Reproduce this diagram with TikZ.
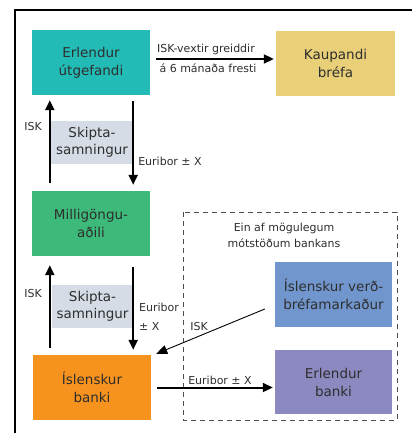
\documentclass[tikz,border=0pt]{standalone}
\usepackage{fontspec}
\setmainfont{DejaVu Sans}
\usetikzlibrary{arrows.meta}
\definecolor{cteal}{HTML}{22BBB6}
\definecolor{cyell}{HTML}{E8CF78}
\definecolor{cgreen}{HTML}{3DBA7A}
\definecolor{cblue}{HTML}{7196CD}
\definecolor{cpurp}{HTML}{8C88C0}
\definecolor{corange}{HTML}{F6921E}
\definecolor{cgray}{HTML}{D5DCE6}
\definecolor{ctext}{HTML}{2E2E2E}
\tikzset{
  box/.style={draw=none, align=center, inner sep=0pt, text=ctext, font=\fontsize{13.5}{18}\selectfont},
  swapbox/.style={fill=cgray, align=center, inner sep=0pt, minimum width=82pt, minimum height=43pt, text=ctext, font=\fontsize{13.5}{17}\selectfont},
  lbl/.style={inner sep=0pt, text=ctext, font=\fontsize{11}{13}\selectfont},
  arr/.style={line width=2pt, -{Triangle[length=10pt,width=9pt]}},
  thinarr/.style={line width=0.9pt, -{Triangle[length=11pt,width=9pt]}}
}
\begin{document}
\begin{tikzpicture}[x=1pt,y=-1pt]
\useasboundingbox (0,0) rectangle (412,434);
% frame corner
\draw[line width=2.5pt] (15,433) -- (15,10) -- (412,10);
% dashed region
\draw[dash pattern=on 5pt off 4pt, line width=0.7pt, draw=black!70] (183,212) rectangle (397,420);
\node[lbl, align=center, font=\fontsize{11}{16}\selectfont] (dl) at (284,235) {Ein af mögulegum\\mótstöðum bankans};
% boxes
\node[box, fill=cteal, minimum width=118pt, minimum height=65pt] (eu) at (91,62.5) {Erlendur\\útgefandi};
\node[box, fill=cyell, minimum width=119pt, minimum height=65pt] (kb) at (335.5,63.5) {Kaupandi\\bréfa};
\node[box, fill=cgreen, minimum width=118pt, minimum height=65pt] (mi) at (91,223.5) {Milligöngu-\\aðili};
\node[box, fill=cblue, minimum width=117pt, minimum height=65pt] (vb) at (333.5,294.5) {Íslenskur verð-\\bréfamarkaður};
\node[box, fill=cpurp, minimum width=117pt, minimum height=64pt] (eb) at (333.5,382) {Erlendur\\banki};
\node[box, fill=corange, minimum width=118pt, minimum height=65pt] (ib) at (92,387.5) {Íslenskur\\banki};
% swap boxes
\node[swapbox] (s1) at (92,142.5) {Skipta-\\samningur};
\node[swapbox, minimum width=81pt] (s2) at (92.5,306.5) {Skipta-\\samningur};
% top arrow
\draw[arr] ([xshift=6pt,yshift=3.5pt]eu.east) -- ([xshift=-2pt,yshift=3.5pt]eu.east -| kb.west);
\node[lbl] (t1) at (206,49) {ISK-vextir greiddir};
\node[lbl] (t2) at (208,68) {á 6 mánaða fresti};
% upper swap arrows
\draw[arr] ([xshift=18pt,yshift=8pt]mi.north west) -- ([xshift=18pt,yshift=-5pt]eu.south west);
\draw[arr] ([xshift=-17pt,yshift=-6pt]eu.south east) -- ([xshift=-17pt,yshift=6pt]mi.north east);
\node[lbl] (isk1) at (33,126) {ISK};
\node[lbl] (eur1) at (170,161) {Euribor ± X};
% lower swap arrows
\draw[arr] ([xshift=17pt,yshift=7pt]ib.north west) -- ([xshift=18pt,yshift=-9pt]mi.south west);
\draw[arr] ([xshift=-17pt,yshift=-11pt]mi.south east) -- ([xshift=-18pt,yshift=5pt]ib.north east);
\node[lbl] (isk2) at (33,293) {ISK};
\node[lbl, anchor=west] (eur2a) at (139,307) {Euribor};
\node[lbl, anchor=west] (eur2b) at (139,326) {± X};
% diagonal arrow
\draw[thinarr] ([xshift=-10pt,yshift=-14.5pt]vb.west) -- ([xshift=5pt,yshift=1pt]ib.north east);
\node[lbl] (isk3) at (199,326) {ISK};
% bottom arrow
\draw[arr] ([xshift=6pt]ib.east) -- ([xshift=-2pt]ib.east -| eb.west);
\node[lbl] (eur3) at (220,380) {Euribor ± X};
\end{tikzpicture}
\end{document}
